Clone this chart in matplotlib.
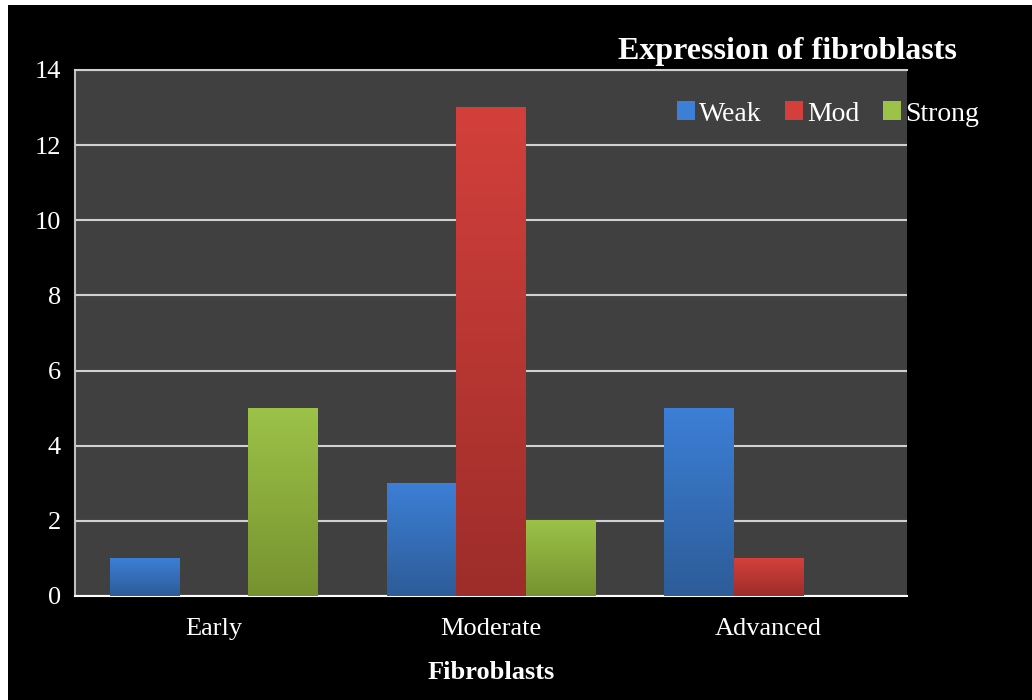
import matplotlib
matplotlib.use('Agg')
from matplotlib import pyplot as plt
from matplotlib.patches import Rectangle, Patch
import numpy as np

categories = ['Early', 'Moderate', 'Advanced']
series_names = ['Weak', 'Mod', 'Strong']
weak = [1, 3, 5]
mod = [0, 13, 1]
strong = [5, 2, 0]

# (top colour, bottom colour) for the gradient fills
colours = [('#3c7fd6', '#2d5c98'), ('#d3403b', '#9d2d2a'), ('#9cc248', '#76922f')]

plt.rcParams['font.family'] = ['Liberation Serif', 'DejaVu Serif']

fig = plt.figure(figsize=(10.32, 7.0), dpi=100, facecolor='white')
fig.patches.append(Rectangle((8 / 1032, 0), 1, 695 / 700, transform=fig.transFigure,
                             facecolor='black', edgecolor='none', zorder=0))

ax = fig.add_axes([75 / 1032, 104 / 700, 832 / 1032, 526 / 700])
ax.set_zorder(2)
ax.set_facecolor('#404040')

x = np.arange(len(categories))
width = 0.25
values = [weak, mod, strong]
grad = np.linspace(1, 0, 256).reshape(-1, 1)

for i, (vals, (top, bottom)) in enumerate(zip(values, colours)):
    cmap = matplotlib.colors.LinearSegmentedColormap.from_list('g%d' % i, [bottom, top])
    for xi, v in zip(x + (i - 1) * width, vals):
        if v <= 0:
            continue
        ax.imshow(grad, cmap=cmap, aspect='auto', zorder=3,
                  extent=[xi - width / 2, xi + width / 2, 0, v], origin='upper')

ax.set_xlim(-0.5, 2.5)
ax.set_ylim(0, 14)
ax.set_yticks(np.arange(0, 15, 2))
ax.set_xticks(x)
ax.set_xticklabels(categories)
ax.yaxis.grid(True, color='#d0d0d0', linewidth=1.5, zorder=1)
ax.set_axisbelow(True)
ax.tick_params(colors='white', labelsize=19, length=0, pad=10)
ax.tick_params(axis='x', pad=16)
ax.spines['right'].set_visible(False)
ax.spines['top'].set_color('#d0d0d0')
ax.spines['left'].set_color('#c0c0c0')
ax.spines['bottom'].set_color('white')
for side in ['top', 'left', 'bottom']:
    ax.spines[side].set_linewidth(1.5)

ax.set_xlabel('Fibroblasts', color='white', fontsize=19, fontweight='bold', labelpad=15)

fig.text(787 / 1032, 649 / 700, 'Expression of fibroblasts', color='white',
         fontsize=23, fontweight='bold', ha='center', va='center')

handles = [Patch(facecolor=c[0], edgecolor='none') for c in colours]
leg = fig.legend(handles, series_names, loc='center', bbox_to_anchor=(828 / 1032, 586 / 700),
                 ncol=3, frameon=False, fontsize=20, labelcolor='white',
                 handlelength=0.65, handleheight=0.65, handletextpad=0.15, columnspacing=0.85)
leg.set_zorder(5)

fig.savefig('out.png', dpi=100, facecolor=fig.get_facecolor())
